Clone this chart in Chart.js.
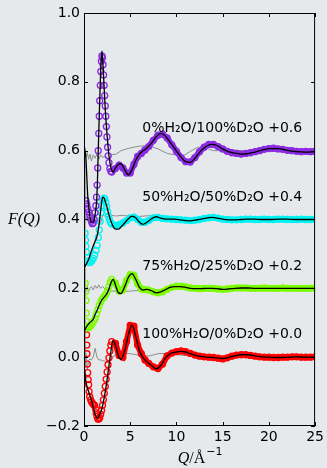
<!DOCTYPE html>
<html lang="en">
<head>
<meta charset="UTF-8" />
<title>F(Q) of H2O/D2O mixtures</title>
<script src="https://cdn.jsdelivr.net/npm/chart.js"></script>
<style>
  html, body { margin: 0; padding: 0; background: #e6e9ec; }
  canvas { display: block; }
</style>
</head>
<body>
<canvas id="fq" width="327" height="468"></canvas>
<script>
// samples, top to bottom, and the shift added to each curve
var samples = ['0%H\u2082O/100%D\u2082O', '50%H\u2082O/50%D\u2082O', '75%H\u2082O/25%D\u2082O', '100%H\u2082O/0%D\u2082O'];
var offsets = [0.6, 0.4, 0.2, 0.0];

// fitted curves (black), unshifted
var qFit = [0, 0.2, 0.4, 0.6, 0.8, 1.0, 1.2, 1.4, 1.6, 1.8, 1.95, 2.1, 2.3, 2.5, 2.7, 2.9, 3.15, 3.4, 3.7, 4.0,
            4.4, 4.8, 5.2, 5.6, 6.0, 6.4, 6.8, 7.3, 7.8, 8.3, 8.8, 9.3, 9.8, 10.4, 11.0, 11.5, 12.0, 12.6, 13.2, 13.8,
            14.4, 15.0, 15.6, 16.3, 17.0, 17.7, 18.5, 19.3, 20.1, 21.0, 22.0, 23.0, 24.0, 25.0];
var fit0 = [0.01, -0.02, -0.13, -0.185, -0.208, -0.207, -0.185, -0.13, 0.055, 0.23, 0.29, 0.225, 0.12, 0.045, -0.015, -0.048, -0.062, -0.05, -0.04, -0.038,
            -0.055, -0.07, -0.055, -0.028, -0.01, 0.0, 0.008, 0.022, 0.04, 0.05, 0.043, 0.025, 0.007, -0.015, -0.032, -0.034, -0.022, -0.002, 0.012, 0.018,
            0.015, 0.005, -0.003, -0.007, -0.01, -0.009, -0.004, 0.002, 0.006, 0.006, 0.001, -0.003, -0.004, -0.003];
var fit1 = [-0.14, -0.132, -0.122, -0.108, -0.092, -0.076, -0.063, -0.05, -0.02, 0.025, 0.058, 0.065, 0.052, 0.035, 0.013, -0.004, -0.02, -0.028, -0.028, -0.022,
            -0.01, 0.002, 0.01, 0.005, -0.008, -0.014, -0.008, 0.002, 0.008, 0.004, 0.001, 0.001, 0.001, -0.001, -0.003, -0.004, -0.002, 0.001, 0.004, 0.006,
            0.004, 0.001, -0.001, -0.001, 0.0, 0.001, 0.001, 0.0, 0.0, 0.001, 0.001, 0.0, 0.0, 0.0];
var fit2 = [-0.125, -0.115, -0.107, -0.1, -0.096, -0.09, -0.076, -0.065, -0.052, -0.04, -0.033, -0.028, -0.022, -0.014, -0.002, 0.015, 0.026, 0.01, -0.012, -0.015,
            0.005, 0.032, 0.043, 0.026, 0.003, -0.005, -0.003, -0.007, -0.013, -0.01, -0.004, 0.003, 0.005, 0.005, 0.003, 0.0, -0.001, -0.001, 0.0, 0.0,
            -0.001, -0.003, -0.002, 0.0, 0.001, 0.001, 0.0, 0.0, 0.0, 0.0, 0.0, 0.0, 0.0, 0.0];
var fit3 = [-0.02, -0.07, -0.092, -0.108, -0.125, -0.145, -0.165, -0.177, -0.173, -0.16, -0.148, -0.13, -0.1, -0.065, -0.025, 0.015, 0.048, 0.035, 0.005, -0.006,
            0.018, 0.065, 0.094, 0.06, 0.018, -0.002, -0.013, -0.024, -0.034, -0.025, -0.003, 0.01, 0.014, 0.017, 0.015, 0.01, 0.006, 0.002, 0.0, -0.001,
            -0.002, -0.004, -0.001, 0.004, 0.007, 0.007, 0.004, 0.001, 0.0, -0.001, 0.0, 0.001, 0.0, 0.0];

// measured points at low Q (open circles)
var qPts0 = [0.2, 0.3, 0.4, 0.5, 0.6, 0.7, 0.8, 0.9, 1.0, 1.1, 1.2, 1.28, 1.35, 1.42, 1.48, 1.54, 1.6, 1.65, 1.7, 1.76,
             1.82, 1.88, 1.94, 2.0, 2.06, 2.12, 2.18, 2.24, 2.3, 2.36, 2.42, 2.48, 2.55, 2.62, 2.7, 2.8, 2.9];
var pts0 = [-0.145, -0.155, -0.168, -0.178, -0.187, -0.195, -0.205, -0.212, -0.21, -0.2, -0.18, -0.16, -0.135, -0.1, -0.05, 0.0, 0.05, 0.1, 0.145, 0.19,
            0.23, 0.26, 0.275, 0.27, 0.25, 0.22, 0.19, 0.16, 0.13, 0.1, 0.07, 0.04, 0.01, -0.015, -0.035, -0.052, -0.06];
var qPts1 = [0.12, 0.16, 0.2, 0.25, 0.32, 0.42, 0.55, 0.7, 0.85, 1.0, 1.15, 1.3, 1.42, 1.55, 1.65, 1.75, 1.85, 1.95, 2.05, 2.15,
             2.25, 2.35, 2.45, 2.55, 2.65, 2.75, 2.85];
var pts1 = [-0.04, -0.06, -0.078, -0.095, -0.11, -0.12, -0.125, -0.124, -0.12, -0.113, -0.103, -0.09, -0.075, -0.052, -0.03, -0.005, 0.02, 0.04, 0.055, 0.062,
            0.06, 0.05, 0.037, 0.023, 0.01, 0.0, -0.008];
var qPts2 = [0.12, 0.16, 0.2, 0.24, 0.28, 0.35, 0.45, 0.6, 0.75, 0.9, 1.05, 1.2, 1.35, 1.5, 1.65, 1.8, 1.95, 2.1, 2.25, 2.4,
             2.55, 2.7, 2.85];
var pts2 = [0.015, -0.01, -0.035, -0.072, -0.097, -0.11, -0.115, -0.113, -0.108, -0.102, -0.095, -0.087, -0.075, -0.062, -0.05, -0.04, -0.032, -0.027, -0.022, -0.016,
            -0.007, 0.005, 0.018];
var qPts3 = [0.28, 0.3, 0.32, 0.36, 0.4, 0.45, 0.5, 0.55, 0.62, 0.72, 0.82, 0.95, 1.05, 1.15, 1.25, 1.32, 1.4, 1.5, 1.6, 1.7,
             1.8, 1.9, 2.0, 2.1, 2.2, 2.3, 2.4, 2.5, 2.6, 2.7, 2.8, 2.9];
var pts3 = [0.065, 0.035, 0.01, -0.02, -0.045, -0.065, -0.08, -0.1, -0.115, -0.124, -0.13, -0.135, -0.138, -0.14, -0.15, -0.162, -0.172, -0.18, -0.18, -0.176,
            -0.166, -0.155, -0.14, -0.124, -0.105, -0.085, -0.064, -0.043, -0.022, -0.002, 0.018, 0.035];

// measured points above Q = 3, dense enough to merge into a band
var qBand = [3.0, 3.4, 3.8, 4.2, 4.6, 5.0, 5.4, 5.8, 6.2, 6.6, 7.0, 7.5, 8.0, 8.5, 9.0, 9.5, 10, 10.5, 11, 11.5,
             12, 12.5, 13, 13.5, 14, 14.5, 15, 15.5, 16, 16.5, 17, 17.5, 18, 18.5, 19, 19.5, 20, 20.5, 21, 21.5,
             22, 22.5, 23, 23.5, 24, 24.5, 25];
var band0 = [-0.062, -0.052, -0.042, -0.05, -0.065, -0.065, -0.04, -0.017, -0.008, 0.002, 0.012, 0.03, 0.045, 0.048, 0.037, 0.017, -0.002, -0.02, -0.032, -0.033,
             -0.02, -0.003, 0.01, 0.018, 0.018, 0.012, 0.005, -0.002, -0.006, -0.008, -0.01, -0.008, -0.006, -0.003, 0.0, 0.004, 0.006, 0.007, 0.005, 0.004,
             0.001, 0.0, -0.002, -0.003, -0.002, -0.003, -0.002];
var band1 = [-0.013, -0.017, -0.015, -0.01, -0.003, 0.005, 0.007, 0.0, -0.008, -0.008, -0.003, 0.005, 0.006, 0.003, 0.002, 0.001, 0.0, -0.001, -0.002, -0.003,
             -0.002, 0.0, 0.003, 0.005, 0.006, 0.004, 0.001, 0.0, -0.001, -0.001, 0.0, 0.001, 0.001, 0.0, 0.0, 0.001, 0.0, 0.0, 0.001, 0.001,
             0.0, 0.0, 0.0, 0.001, 0.0, 0.0, 0.001];
var band2 = [0.026, 0.015, -0.008, -0.005, 0.022, 0.04, 0.038, 0.013, -0.002, -0.004, -0.005, -0.01, -0.013, -0.01, -0.003, 0.003, 0.006, 0.006, 0.004, 0.001,
             0.0, -0.001, 0.0, 0.0, 0.0, -0.002, -0.003, -0.002, 0.0, 0.001, 0.001, 0.001, 0.0, 0.0, 0.0, 0.001, 0.0, 0.0, 0.0, 0.001,
             0.0, 0.0, 0.0, 0.0, 0.0, 0.0, 0.001];
var band3 = [0.045, 0.04, 0.005, 0.0, 0.045, 0.092, 0.09, 0.035, 0.01, -0.008, -0.018, -0.028, -0.033, -0.02, 0.004, 0.012, 0.016, 0.018, 0.016, 0.011,
             0.006, 0.003, 0.001, 0.0, -0.001, -0.003, -0.005, -0.002, 0.003, 0.006, 0.007, 0.007, 0.005, 0.003, 0.001, 0.0, 0.0, -0.001, -0.001, 0.0,
             0.0, 0.001, 0.001, 0.0, 0.0, 0.0, 0.001];

// thin grey curves
var qGray = [0.03, 0.1, 0.2, 0.35, 0.5, 0.65, 0.8, 1.0, 1.2, 1.4, 1.6, 1.8, 2.0, 2.3, 2.6, 3.0, 3.5, 4.0, 5.0, 6.0,
             7.0, 8.0, 9.0, 10.0, 10.8, 11.5, 12.3, 13.2, 14.0, 15.0, 16.0, 18.0, 20.0, 22.0, 25.0];
var gray0 = [0.01, 0.0, -0.02, -0.005, -0.025, -0.01, -0.03, -0.012, -0.022, -0.01, -0.025, -0.012, -0.02, -0.015, -0.025, -0.012, -0.01, 0.0, 0.008, 0.013,
             0.015, 0.005, -0.008, -0.013, -0.014, -0.002, 0.01, 0.008, 0.0, 0.0, 0.002, -0.002, 0.0, 0.0, 0.0];
var gray1 = [0.2, 0.0, 0.008, -0.005, 0.004, -0.006, 0.0, -0.004, 0.002, -0.006, -0.002, -0.01, 0.012, 0.01, 0.008, 0.012, 0.01, 0.012, 0.01, 0.009,
             0.011, 0.01, 0.004, 0.0, -0.002, 0.0, 0.003, 0.002, 0.0, 0.0, 0.001, 0.0, 0.0, 0.0, 0.0];
var gray2 = [0.2, -0.03, -0.01, 0.005, -0.01, 0.0, 0.005, -0.005, 0.008, 0.0, 0.01, 0.0, 0.006, -0.003, -0.006, -0.008, -0.008, -0.01, -0.008, -0.006,
             -0.005, -0.004, -0.002, 0.0, 0.001, 0.002, 0.001, 0.0, 0.0, -0.001, 0.0, 0.0, 0.0, 0.0, 0.0];
var gray3 = [0.2, -0.03, 0.012, -0.035, -0.01, -0.005, -0.008, 0.0, 0.026, 0.0, -0.008, -0.008, -0.01, -0.012, -0.012, -0.005, 0.012, 0.012, 0.01, 0.006,
             0.003, 0.01, 0.011, 0.008, 0.005, 0.004, 0.003, 0.002, 0.001, 0.0, 0.001, 0.0, 0.0, 0.0, 0.0];

var xTicks = [0, 5, 10, 15, 20, 25];
var yTicks = [-0.2, 0.0, 0.2, 0.4, 0.6, 0.8, 1.0];

var colors = ['#8a2be2', '#00f2f2', '#7cfc00', '#ff0000'];
var fits = [fit0, fit1, fit2, fit3];
var qPts = [qPts0, qPts1, qPts2, qPts3];
var pts = [pts0, pts1, pts2, pts3];
var bands = [band0, band1, band2, band3];
var grays = [gray0, gray1, gray2, gray3];

function xy(qs, fs, off) {
    return qs.map(function (q, i) { return { x: q, y: fs[i] + off }; });
}

var datasets = [];
for (var i = 0; i < samples.length; i++) {
    var off = offsets[i];
    var bandPts = xy(qBand, bands[i], off);
    datasets.push({
        data: xy(qGray, grays[i], off),
        borderColor: '#8c8c8c', borderWidth: 1, pointRadius: 0, tension: 0, order: 3
    });
    datasets.push({
        data: bandPts,
        borderColor: colors[i], borderWidth: 6, pointRadius: 0, tension: 0, order: 2
    });
    datasets.push({
        data: xy(qPts[i], pts[i], off).concat(bandPts),
        showLine: false, pointRadius: 3, pointBorderWidth: 1.3,
        pointBorderColor: colors[i], pointBackgroundColor: 'rgba(0,0,0,0)', order: 2
    });
    datasets.push({
        data: xy(qFit, fits[i], off),
        borderColor: '#000', borderWidth: 1.3, pointRadius: 0, cubicInterpolationMode: 'monotone', order: 1
    });
}

var SANS = "'DejaVu Sans', sans-serif";
var SERIF = "'Liberation Serif', serif";

// frame, inward ticks, sample labels and axis titles
var decor = {
    id: 'decor',
    afterDatasetsDraw: function (chart) {
        var c = chart.ctx, a = chart.chartArea, xs = chart.scales.x, ys = chart.scales.y;
        c.save();
        c.strokeStyle = '#000';
        c.lineWidth = 1;
        c.strokeRect(a.left + 0.5, a.top + 0.5, a.right - a.left - 1, a.bottom - a.top - 1);
        c.beginPath();
        xTicks.forEach(function (v) {
            var px = Math.round(xs.getPixelForValue(v)) + 0.5;
            c.moveTo(px, a.bottom); c.lineTo(px, a.bottom - 4);
            c.moveTo(px, a.top); c.lineTo(px, a.top + 4);
        });
        yTicks.forEach(function (v) {
            var py = Math.round(ys.getPixelForValue(v)) + 0.5;
            c.moveTo(a.left, py); c.lineTo(a.left + 4, py);
            c.moveTo(a.right, py); c.lineTo(a.right - 4, py);
        });
        c.stroke();

        c.fillStyle = '#000';
        c.font = '14px ' + SANS;
        c.textBaseline = 'middle';
        c.textAlign = 'left';
        samples.forEach(function (s, k) {
            c.fillText(s + ' +' + offsets[k].toFixed(1), xs.getPixelForValue(6.3), ys.getPixelForValue(offsets[k] + 0.065));
        });

        // y title
        c.font = 'italic 16px ' + SERIF;
        c.textAlign = 'center';
        c.fillText('F(Q)', 24, ys.getPixelForValue(0.4));

        // x title: Q/Å^-1
        var base = 463;
        c.textBaseline = 'alphabetic';
        c.textAlign = 'left';
        c.font = 'italic 16px ' + SERIF;
        var w1 = c.measureText('Q').width;
        c.font = '16px ' + SERIF;
        var w2 = c.measureText('/\u00c5').width;
        c.font = '11px ' + SANS;
        var w3 = c.measureText('\u22121').width;
        var x0 = (a.left + a.right) / 2 - (w1 + w2 + w3) / 2;
        c.font = 'italic 16px ' + SERIF;
        c.fillText('Q', x0, base);
        c.font = '16px ' + SERIF;
        c.fillText('/\u00c5', x0 + w1, base);
        c.font = '11px ' + SANS;
        c.fillText('\u22121', x0 + w1 + w2 + 1, base - 8);
        c.restore();
    }
};

new Chart(document.getElementById('fq').getContext('2d'), {
    type: 'line',
    data: { datasets: datasets },
    options: {
        responsive: false,
        animation: false,
        devicePixelRatio: 1,
        layout: { padding: { top: 13, right: 11, left: 0, bottom: 0 } },
        plugins: { legend: { display: false }, tooltip: { enabled: false } },
        scales: {
            x: {
                type: 'linear', min: 0, max: 25,
                afterBuildTicks: function (s) { s.ticks = xTicks.map(function (v) { return { value: v }; }); },
                ticks: { color: '#000', font: { family: SANS, size: 14 }, padding: 3, maxRotation: 0,
                         callback: function (v) { return String(v); } },
                grid: { display: false, drawTicks: false },
                border: { display: false },
                afterFit: function (s) { s.height = 42; }
            },
            y: {
                type: 'linear', min: -0.2, max: 1.0,
                afterBuildTicks: function (s) { s.ticks = yTicks.map(function (v) { return { value: v }; }); },
                ticks: { color: '#000', font: { family: SANS, size: 14 }, padding: 4,
                         callback: function (v) { return v.toFixed(1).replace('-', '\u2212'); } },
                grid: { display: false, drawTicks: false },
                border: { display: false },
                afterFit: function (s) { s.width = 84; }
            }
        }
    },
    plugins: [decor]
});
</script>
</body>
</html>
